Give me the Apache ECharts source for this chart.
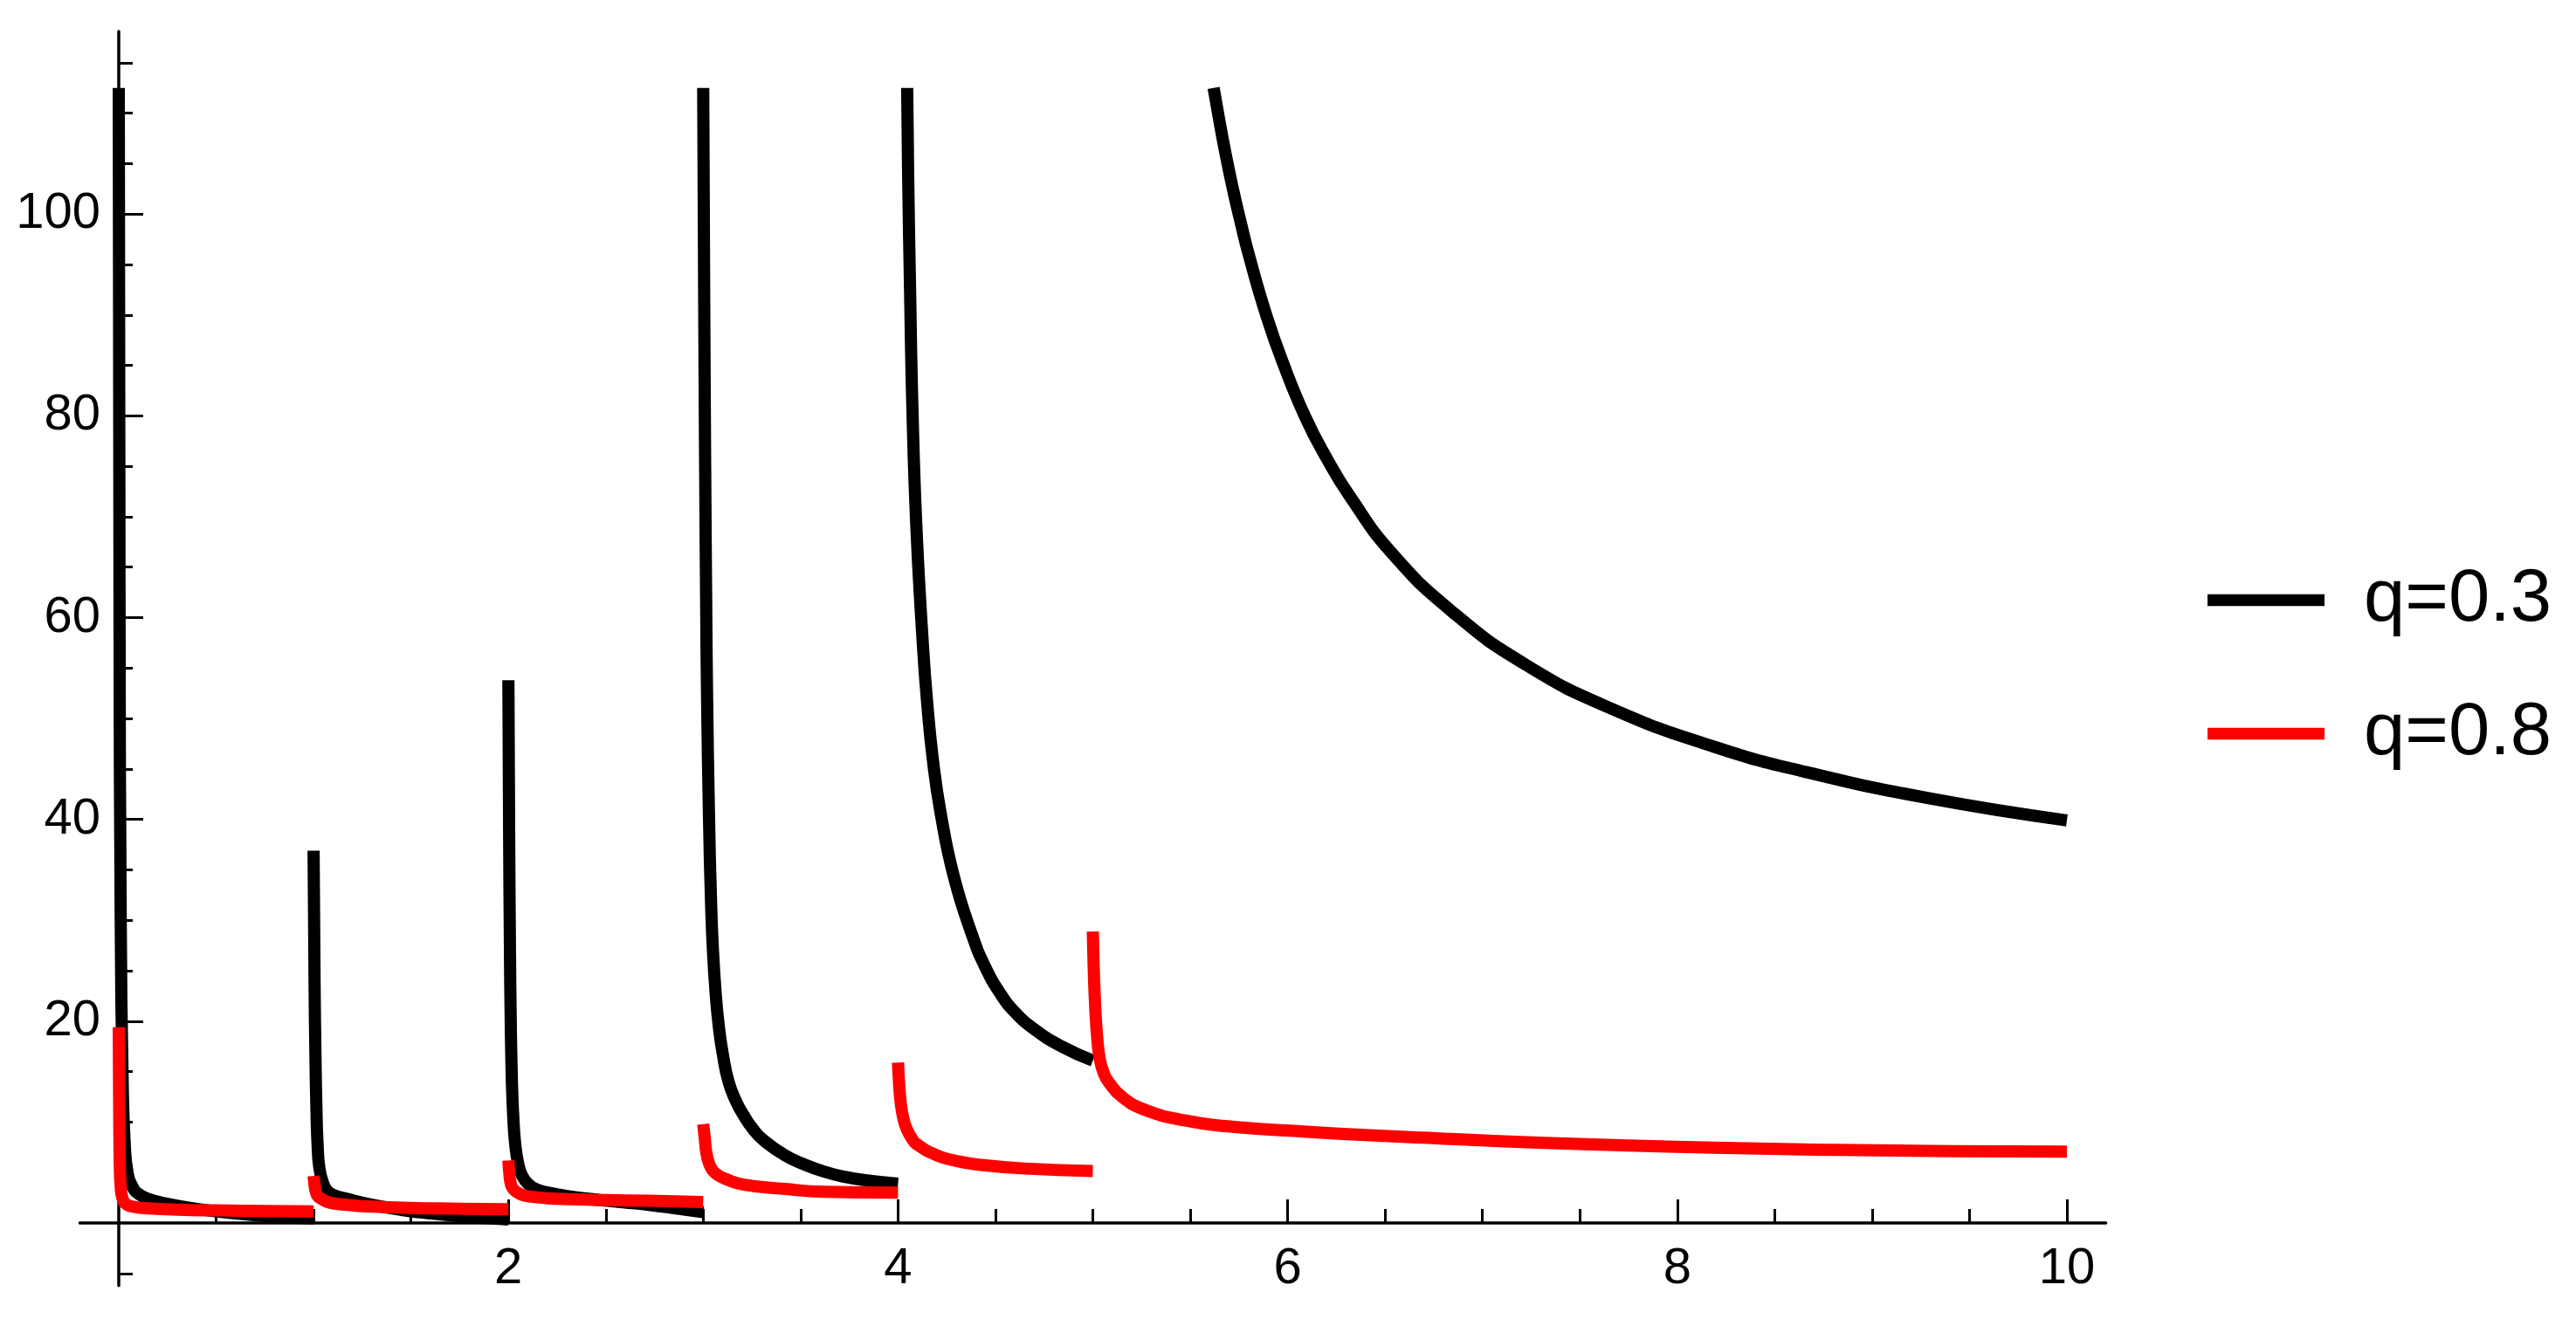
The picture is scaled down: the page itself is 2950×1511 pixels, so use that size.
<!DOCTYPE html>
<html>
<head>
<meta charset="utf-8">
<script src="https://cdn.jsdelivr.net/npm/echarts@6/dist/echarts.min.js"></script>
<style>
html,body{margin:0;padding:0;background:#fff;}
#chart{width:2950px;height:1511px;}
</style>
</head>
<body>
<div id="chart"></div>
<script>
// ---- data ----
const seriesNames = ['q=0.3', 'q=0.8'];

// q = 0.3 (black), one array per branch
const q03_seg1 = [[0,112.5],[0.004,60],[0.01,30],[0.02,14],[0.03,8],[0.045,5],[0.07,3.6],[0.1,2.9],[0.15,2.4],[0.25,1.9],[0.4,1.4],[0.6,0.95],[0.8,0.65],[1.0,0.45]];
const q03_seg2 = [[1.0,36.9],[1.005,24],[1.01,16],[1.015,11],[1.02,8],[1.03,5.4],[1.05,3.9],[1.07,3.2],[1.1,2.8],[1.18,2.35],[1.3,1.8],[1.45,1.3],[1.6,0.95],[1.8,0.6],[2.0,0.35]];
const q03_seg3 = [[2.0,53.8],[2.004,38],[2.008,27],[2.012,20],[2.018,14],[2.025,10.5],[2.035,7.8],[2.05,5.9],[2.07,4.7],[2.1,3.9],[2.15,3.3],[2.22,2.95],[2.31,2.65],[2.41,2.4],[2.51,2.2],[2.62,2.0],[2.72,1.8],[2.86,1.45],[3.0,1.07]];
const q03_seg4 = [[3.0,112.5],[3.005,92],[3.01,75],[3.015,62],[3.02,52],[3.03,40],[3.04,32],[3.05,27],[3.065,22.5],[3.08,19.5],[3.1,16.8],[3.13,14.0],[3.17,12],[3.21,10.6],[3.26,9.2],[3.31,8.2],[3.42,6.7],[3.52,5.8],[3.62,5.1],[3.72,4.6],[3.83,4.25],[4.0,3.9]];
const q03_seg5 = [[4.047,112.5],[4.052,103.9],[4.062,92.3],[4.074,80.7],[4.094,69.1],[4.127,57.5],[4.149,51.7],[4.179,45.9],[4.219,40.6],[4.287,34.3],[4.381,28.5],[4.447,25.4],[4.523,22.8],[4.6,20.9],[4.7,19.2],[4.84,17.5],[5.0,16.1]];
const q03_seg6 = [[5.62,112.5],[5.65,109.2],[5.68,106.1],[5.72,102.4],[5.76,99.1],[5.8,96.0],[5.89,90.0],[5.975,85.3],[6.09,79.9],[6.2,75.8],[6.32,72.0],[6.535,66.4],[6.85,60.5],[7.225,55.3],[7.66,51.0],[8.19,47.2],[8.66,44.7],[9.29,42.1],[10.0,39.9]];

// q = 0.8 (red)
const q08_seg1 = [[0.0,19.4],[0.002,12],[0.005,6],[0.01,3.6],[0.02,2.4],[0.04,1.85],[0.08,1.6],[0.15,1.45],[0.3,1.32],[0.5,1.25],[0.75,1.19],[1.0,1.15]];
const q08_seg2 = [[1.0,4.67],[1.005,3.8],[1.01,3.2],[1.02,2.7],[1.04,2.4],[1.07,2.1],[1.11,1.93],[1.2,1.75],[1.28,1.64],[1.49,1.5],[1.75,1.42],[2.0,1.36]];
const q08_seg3 = [[2.0,6.2],[2.005,4.9],[2.01,4.1],[2.02,3.5],[2.04,3.1],[2.07,2.8],[2.1,2.65],[2.2,2.45],[2.31,2.36],[2.5,2.28],[2.72,2.2],[3.0,2.08]];
const q08_seg4 = [[3.0,9.8],[3.008,8.4],[3.016,7.0],[3.03,5.9],[3.047,5.25],[3.075,4.75],[3.11,4.4],[3.21,3.8],[3.42,3.37],[3.62,3.1],[4.0,3.0]];
const q08_seg5 = [[4.0,15.9],[4.005,14],[4.014,11.9],[4.028,10.3],[4.045,9.3],[4.07,8.4],[4.097,7.8],[4.2,6.7],[4.3,6.15],[4.405,5.8],[4.65,5.4],[5.0,5.15]];
const q08_seg6 = [[5.0,28.9],[5.005,25],[5.012,21.5],[5.022,18.5],[5.035,16.3],[5.055,14.9],[5.08,14.0],[5.15,12.5],[5.27,11.2],[5.475,10.15],[5.68,9.6],[6.01,9.15],[6.59,8.55],[7.71,7.7],[8.82,7.25],[10.0,7.08]];

// axis ticks and labels
const xMajorTicks = [2, 4, 6, 8, 10];
const xMinorTicks = [0.5, 1, 1.5, 2.5, 3, 3.5, 4.5, 5, 5.5, 6.5, 7, 7.5, 8.5, 9, 9.5];
const yMajorTicks = [20, 40, 60, 80, 100];
const yMinorTicks = [-5, 5, 10, 15, 25, 30, 35, 45, 50, 55, 65, 70, 75, 85, 90, 95, 105, 110, 115];
const xRange = [-0.2, 10.2];
const yRange = [-6.2, 118.1];

// ---- build chart ----
function joinSegments(segs) {
  const out = [];
  segs.forEach((s, i) => {
    if (i > 0) out.push(['-', '-']);
    s.forEach(p => out.push(p));
  });
  return out;
}
const FONT = "'Liberation Sans', Arial, sans-serif";
const G = {left: 91.4, top: 36, width: 2320.2, height: 1436.7};
// shift the axes so they cross at (0,0), like the reference
const yAxisOffset = -((0 - xRange[0]) / (xRange[1] - xRange[0]) * G.width);
const xAxisOffset = -((0 - yRange[0]) / (yRange[1] - yRange[0]) * G.height);

const chart = echarts.init(document.getElementById('chart'), null, {renderer: 'canvas'});
const tickStyle = {color: '#000', width: 3};
const option = {
  backgroundColor: '#fff',
  animation: false,
  grid: {left: G.left, top: G.top, width: G.width, height: G.height, containLabel: false, outerBoundsMode: 'none'},
  legend: {
    orient: 'vertical', left: 2523, top: 640,
    icon: 'rect', itemWidth: 134, itemHeight: 13.5, itemGap: 68,
    itemStyle: {borderWidth: 0},
    textStyle: {fontSize: 85, color: '#000', fontFamily: FONT, padding: [0, 0, 0, 40]},
    data: seriesNames
  },
  xAxis: [
    {type: 'value', min: xRange[0], max: xRange[1], position: 'bottom', offset: xAxisOffset, z: 3,
     axisLine: {onZero: false, lineStyle: {color: '#000', width: 3.5}},
     axisTick: {inside: true, length: 27, lineStyle: tickStyle, customValues: xMajorTicks},
     axisLabel: {customValues: xMajorTicks, margin: 24, fontSize: 58, color: '#000', fontFamily: FONT},
     splitLine: {show: false}},
    {type: 'value', min: xRange[0], max: xRange[1], position: 'bottom', offset: xAxisOffset, z: 3,
     axisLine: {show: false, onZero: false},
     axisTick: {inside: true, length: 16, lineStyle: tickStyle, customValues: xMinorTicks},
     axisLabel: {show: false}, splitLine: {show: false}}
  ],
  yAxis: [
    {type: 'value', min: yRange[0], max: yRange[1], position: 'left', offset: yAxisOffset, z: 3,
     axisLine: {onZero: false, lineStyle: {color: '#000', width: 3.5}},
     axisTick: {inside: true, length: 28, lineStyle: tickStyle, customValues: yMajorTicks},
     axisLabel: {customValues: yMajorTicks, margin: 21, fontSize: 58, color: '#000', fontFamily: FONT},
     splitLine: {show: false}},
    {type: 'value', min: yRange[0], max: yRange[1], position: 'left', offset: yAxisOffset, z: 3,
     axisLine: {show: false, onZero: false},
     axisTick: {inside: true, length: 16, lineStyle: tickStyle, customValues: yMinorTicks},
     axisLabel: {show: false}, splitLine: {show: false}}
  ],
  series: [
    {name: seriesNames[0], type: 'line', xAxisIndex: 0, yAxisIndex: 0, color: '#000',
     showSymbol: false, symbol: 'none', smooth: 0.5, connectNulls: false,
     lineStyle: {color: '#000', width: 14, cap: 'butt', join: 'round'},
     data: joinSegments([q03_seg1, q03_seg2, q03_seg3, q03_seg4, q03_seg5, q03_seg6])},
    {name: seriesNames[1], type: 'line', xAxisIndex: 0, yAxisIndex: 0, color: '#ff0000',
     showSymbol: false, symbol: 'none', smooth: 0.5, connectNulls: false,
     lineStyle: {color: '#ff0000', width: 14, cap: 'butt', join: 'round'},
     data: joinSegments([q08_seg1, q08_seg2, q08_seg3, q08_seg4, q08_seg5, q08_seg6])}
  ]
};
chart.setOption(option);
</script>
</body>
</html>
